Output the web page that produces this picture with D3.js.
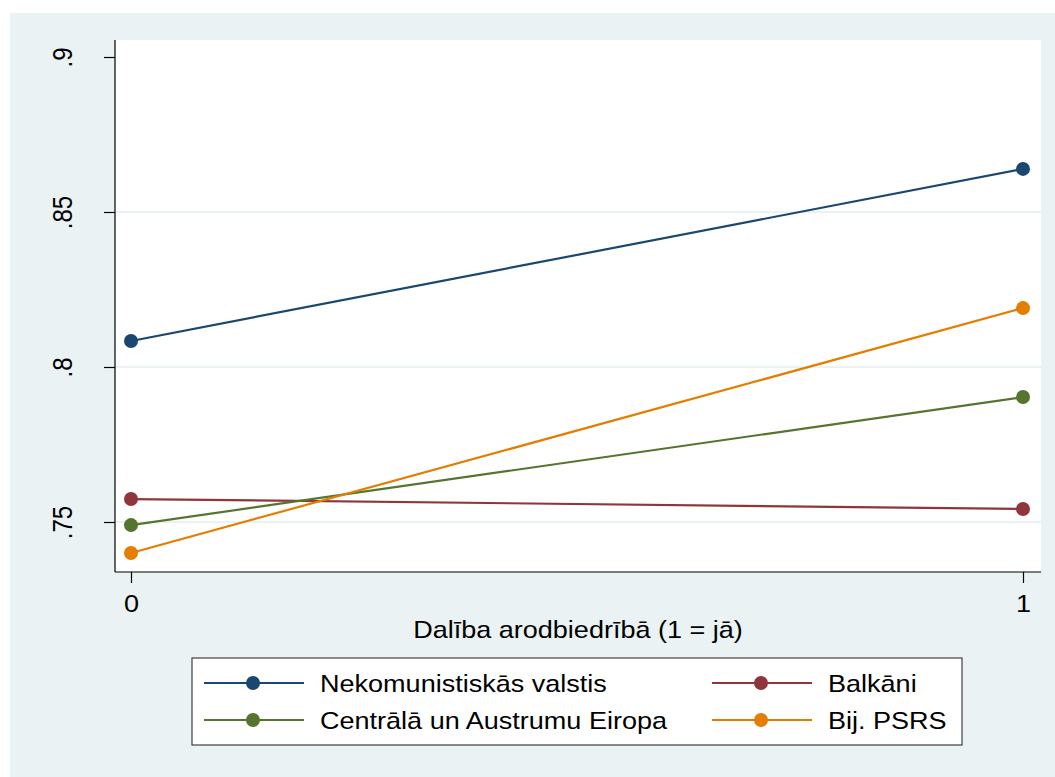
<!DOCTYPE html>
<html><head><meta charset="utf-8">
<script src="https://cdn.jsdelivr.net/npm/d3@7"></script>
<style>body{margin:0;background:#fff}svg{display:block}text{font-family:"Liberation Sans",Arial,sans-serif;fill:#000}</style>
</head><body><svg id="c" width="1055" height="777"></svg>
<script>
const xCategories = [0, 1];
const seriesNames = ["Nekomunistiskās valstis", "Balkāni", "Centrālā un Austrumu Eiropa", "Bij. PSRS"];
const seriesColors = ["#1a476f", "#90353b", "#55752f", "#e37e00"];
const nekomunistiskas = [0.8084, 0.8639];
const balkani = [0.7574, 0.7542];
const centralaEiropa = [0.7490, 0.7903];
const bijPSRS = [0.7400, 0.8190];
const yTicks = [0.75, 0.80, 0.85, 0.90];
const yTickLabels = [".75", ".8", ".85", ".9"];
const gridTicks = [0.75, 0.80, 0.85];
const xTitle = "Dalība arodbiedrībā (1 = jā)";

const SX = 1.127; // horizontal text stretch seen in the reference
const seriesValues = [nekomunistiskas, balkani, centralaEiropa, bijPSRS];
const svg = d3.select("#c");
svg.append("rect").attr("x",10).attr("y",13).attr("width",1045).attr("height",764).attr("fill","#eaf2f3");
const L=115,R=1041,T=40,B=572;
svg.append("rect").attr("x",L).attr("y",T).attr("width",R-L).attr("height",B-T).attr("fill","#fff");

const y = d3.scaleLinear().domain([0.75,0.90]).range([522,57]);
const x = d3.scaleLinear().domain([0,1]).range([131,1023]);

svg.append("g").selectAll("line").data(gridTicks).join("line")
  .attr("x1",L).attr("x2",R).attr("y1",d=>y(d)).attr("y2",d=>y(d))
  .attr("stroke","#eaf2f3").attr("stroke-width",2);

// Y axis
const yAxis = svg.append("g").attr("transform",`translate(${L},0)`)
  .call(d3.axisLeft(y).tickValues(yTicks).tickSize(11).tickFormat((d,i)=>yTickLabels[i]));
yAxis.select(".domain").attr("d",`M0,${T}V${B}`).attr("stroke","#000").attr("stroke-width",1.2);
yAxis.selectAll(".tick line").attr("stroke","#000").attr("stroke-width",1.2);
yAxis.selectAll(".tick text").attr("font-size",24).attr("text-anchor","middle")
  .attr("x",0).attr("y",0).attr("dy",0)
  .attr("transform","translate(-43,0) scale(1.18,1) rotate(-90)");

// X axis
const xAxis = svg.append("g").attr("transform",`translate(0,${B})`)
  .call(d3.axisBottom(x).tickValues(xCategories).tickSize(11).tickFormat(d3.format("d")));
xAxis.select(".domain").attr("d",`M${L},0H${R}`).attr("stroke","#000").attr("stroke-width",1.2);
xAxis.selectAll(".tick line").attr("stroke","#000").attr("stroke-width",1.2);
xAxis.selectAll(".tick text").attr("font-size",24).attr("y",0).attr("dy",0)
  .attr("transform",`translate(0,40) scale(${SX},1)`);
svg.append("text").attr("text-anchor","middle").attr("font-size",24)
  .attr("transform",`translate(578,638) scale(${SX},1)`).text(xTitle);

const line = d3.line().x((d,i)=>x(xCategories[i])).y(d=>y(d));
seriesValues.forEach((vals,s)=>{
  const g = svg.append("g");
  g.append("path").attr("d",line(vals)).attr("fill","none").attr("stroke",seriesColors[s]).attr("stroke-width",2.2);
  g.selectAll("circle").data(vals).join("circle")
    .attr("cx",(d,i)=>x(xCategories[i])).attr("cy",d=>y(d)).attr("r",7).attr("fill",seriesColors[s]);
});

// Legend
svg.append("rect").attr("x",192).attr("y",658).attr("width",770).attr("height",87)
  .attr("fill","#fff").attr("stroke","#404040").attr("stroke-width",1.2);
const legPos = [[204,683],[712,683],[204,720],[712,720]];
[0,1,2,3].forEach((s,k)=>{
  const [lx,ly]=legPos[k];
  const g = svg.append("g");
  g.append("line").attr("x1",lx).attr("x2",lx+100).attr("y1",ly).attr("y2",ly).attr("stroke",seriesColors[s]).attr("stroke-width",2.2);
  g.append("circle").attr("cx",lx+49).attr("cy",ly).attr("r",7).attr("fill",seriesColors[s]);
  g.append("text").attr("font-size",24)
    .attr("transform",`translate(${lx+116},${ly+8.5}) scale(${SX},1)`).text(seriesNames[s]);
});
</script></body></html>
